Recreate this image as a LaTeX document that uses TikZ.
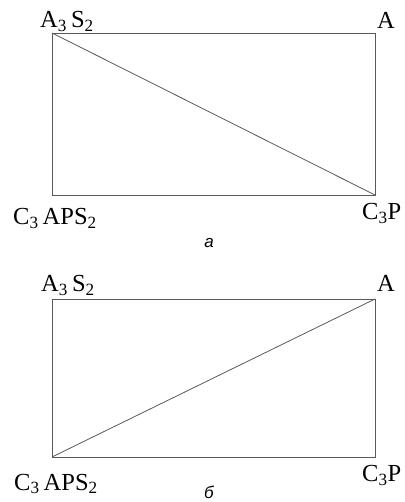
\documentclass[tikz,border=0pt]{standalone}
\usepackage{fontspec}
\setmainfont{Liberation Serif}
\newfontfamily\capfont{Liberation Sans}
\usetikzlibrary{positioning}
\tikzset{
  edge/.style={draw=black!65, line width=0.8pt},
  phase/.style={inner sep=0pt, font=\fontsize{24.5}{26}\selectfont},
  subcap/.style={inner sep=0pt, font=\capfont\itshape\fontsize{17}{19}\selectfont},
}

\begin{document}
\begin{tikzpicture}[x=1pt, y=1pt]
  \useasboundingbox (0,0) rectangle (404,502);

  % diagram a
  \coordinate (a-nw) at (52,469);
  \coordinate (a-ne) at (375,469);
  \coordinate (a-sw) at (52,307);
  \coordinate (a-se) at (375,307);
  \draw[edge] (a-nw) -- (a-ne) -- (a-se) -- (a-sw) -- cycle;
  \draw[edge] (a-nw) -- (a-se);

  \node[phase, anchor=base west] (a-as) at (40,474) {A\textsubscript{3}\,S\textsubscript{2}};
  \node[phase, anchor=base west] (a-a) at (377,473) {A};
  \node[phase, anchor=base west] (a-caps) at (13,277) {C\textsubscript{3}\,APS\textsubscript{2}};
  \node[phase, anchor=base west] (a-cp) at (362,282) {C\textsubscript{3}P};
  \node[subcap, anchor=base] (a-cap) at (209,254) {а};

  % diagram b
  \coordinate (b-nw) at (52,203);
  \coordinate (b-ne) at (375,203);
  \coordinate (b-sw) at (52,45);
  \coordinate (b-se) at (375,45);
  \draw[edge] (b-nw) -- (b-ne) -- (b-se) -- (b-sw) -- cycle;
  \draw[edge] (b-sw) -- (b-ne);

  \node[phase, anchor=base west] (b-as) at (41,210) {A\textsubscript{3}\,S\textsubscript{2}};
  \node[phase, anchor=base west] (b-a) at (377,210) {A};
  \node[phase, anchor=base west] (b-caps) at (14,12) {C\textsubscript{3}\,APS\textsubscript{2}};
  \node[phase, anchor=base west] (b-cp) at (362,20) {C\textsubscript{3}P};
  \node[subcap, anchor=base] (b-cap) at (209,3) {б};
\end{tikzpicture}
\end{document}
